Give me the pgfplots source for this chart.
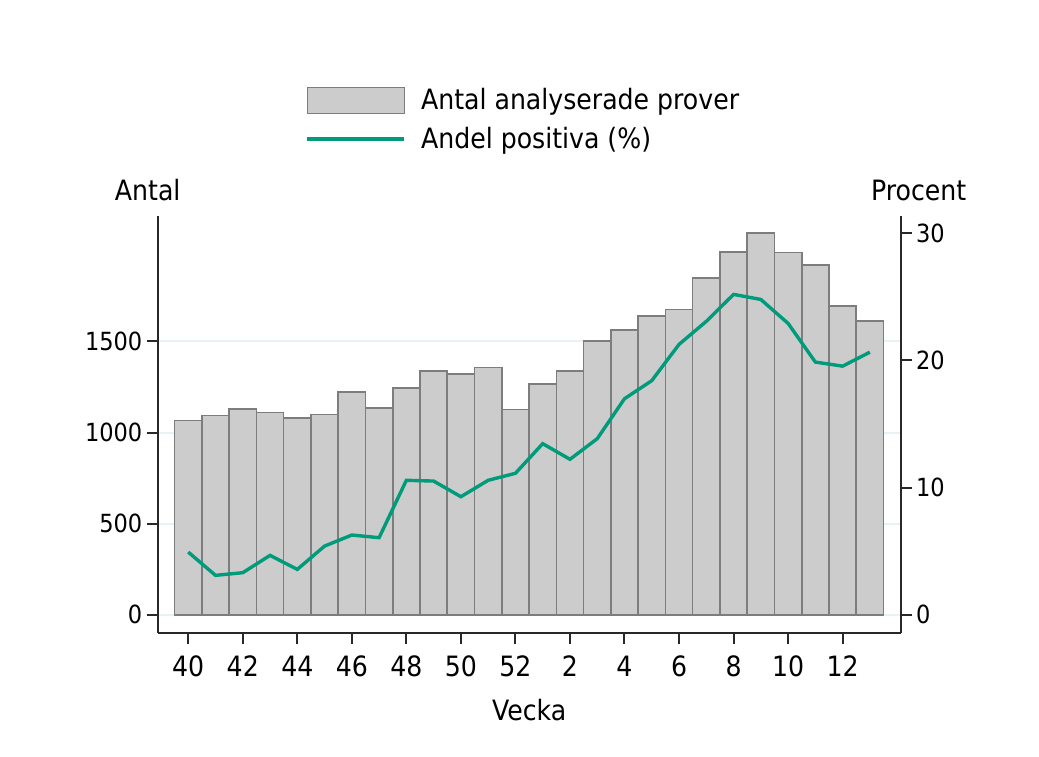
\documentclass[border=0pt]{standalone}
\usepackage{fontspec}
\setmainfont{DejaVu Sans Condensed}
\usepackage{pgfplots}
\pgfplotsset{compat=1.18}
\usepackage{pgfplotstable}

\definecolor{barfill}{RGB}{204,204,204}
\definecolor{baredge}{RGB}{125,125,125}
\definecolor{linecol}{RGB}{0,155,122}
\definecolor{axcol}{RGB}{40,40,40}
\definecolor{gridcol}{RGB}{232,241,244}

% idx: 0 = vecka 40 ... 12 = vecka 52, 13 = vecka 1 ... 25 = vecka 13
\pgfplotstableread{
idx vecka antal andel
0  40 1066 4.93
1  41 1094 3.10
2  42 1129 3.31
3  43 1110 4.67
4  44 1081 3.57
5  45 1099 5.40
6  46 1224 6.27
7  47 1134 6.06
8  48 1246 10.57
9  49 1337 10.51
10 50 1321 9.28
11 51 1357 10.57
12 52 1127 11.12
13 1  1266 13.45
14 2  1339 12.22
15 3  1502 13.84
16 4  1564 16.98
17 5  1641 18.40
18 6  1676 21.25
19 7  1848 23.06
20 8  1991 25.18
21 9  2095 24.78
22 10 1989 22.90
23 11 1919 19.86
24 12 1696 19.54
25 13 1612 20.64
}\data

\pgfplotsset{
  base/.style={
    at={(78.85pt,61.75pt)}, anchor=south west,
    scale only axis, width=371.5pt, height=208pt,
    xmin=-1.12, xmax=26.13,
    axis line style={axcol, line width=1pt},
    tick style={axcol, line width=1pt},
    major tick length=5.5pt,
    tick align=outside,
    /pgf/number format/assume math mode=true,
    /pgf/number format/1000 sep={},
    yticklabel style={font=\fontsize{12.5}{14}\selectfont, inner sep=2pt},
  },
}

\begin{document}
\begin{tikzpicture}
\path[use as bounding box] (0,0) rectangle (519.5pt,378pt);

\begin{axis}[base,
  ymin=-97, ymax=2186,
  axis y line*=left, axis x line*=bottom,
  ytick={0,500,1000,1500},
  ymajorgrids, major grid style={gridcol, line width=1pt},
  xtick={0,2,...,24},
  xticklabels={40,42,44,46,48,50,52,2,4,6,8,10,12},
  xticklabel style={font=\fontsize{14}{16}\selectfont, text height=10.2pt, text depth=0pt, yshift=-3pt},
  xlabel={Vecka},
  xlabel style={font=\fontsize{14}{16}\selectfont, at={(axis description cs:0.5,0)}, anchor=north, yshift=-30pt},
  ylabel={Antal},
  every axis y label/.style={at={(axis description cs:0,1)}, anchor=base, xshift=-5pt, yshift=8pt, font=\fontsize{14}{16}\selectfont},
]
\addplot[ybar, bar width=1, bar shift=0, fill=barfill, draw=baredge, line width=0.8pt]
  table[x=idx, y=antal] {\data};
\end{axis}

\begin{axis}[base,
  ymin=-1.39, ymax=31.3,
  axis y line*=right, axis x line=none,
  ytick={0,10,20,30},
  ylabel={Procent},
  every axis y label/.style={at={(axis description cs:1,1)}, anchor=base, xshift=9pt, yshift=8pt, font=\fontsize{14}{16}\selectfont},
  legend style={draw=none, fill=none, inner sep=0pt, outer sep=0pt,
    at={(axis description cs:0,1)}, anchor=north west, xshift=74pt, yshift=65pt,
    font=\fontsize{14}{16}\selectfont, row sep=5pt,
    nodes={inner sep=1pt, anchor=west},
    /tikz/every odd column/.append style={column sep=6.5pt}},
  legend cell align=left,
]
\addlegendimage{legend image code/.code={
  \draw[fill=barfill, draw=baredge, line width=0.8pt] (0pt,-6.5pt) rectangle (48.5pt,6.5pt);}}
\addlegendentry{Antal analyserade prover}
\addplot[linecol, line width=1.7pt, mark=none,
  legend image code/.code={\draw[linecol, line width=1.7pt] (0pt,0pt) -- (48.5pt,0pt);}]
  table[x=idx, y=andel] {\data};
\addlegendentry{Andel positiva (\%)}
\end{axis}
\end{tikzpicture}
\end{document}
